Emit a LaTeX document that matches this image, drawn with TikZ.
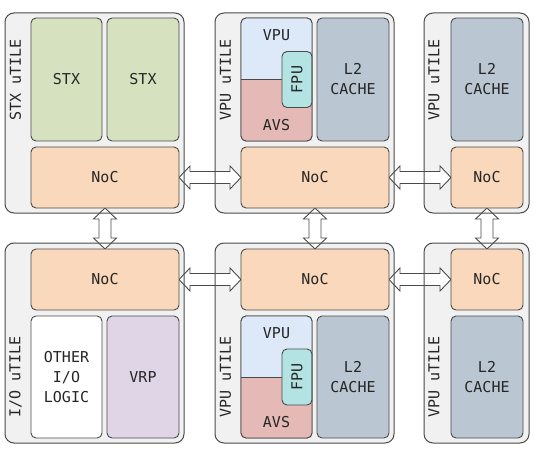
\documentclass[tikz,border=0pt]{standalone}
\usepackage{fontspec}
\newfontfamily\djm{DejaVu Sans Mono}
\usetikzlibrary{calc}
\pgfdeclarelayer{bg}
\pgfdeclarelayer{mid}
\pgfsetlayers{bg,mid,main}
\definecolor{tilebg}{HTML}{F1F1F1}
\definecolor{edge}{HTML}{4A4A4A}
\definecolor{txt}{HTML}{262626}
\definecolor{stxg}{HTML}{D6E2BF}
\definecolor{nocc}{HTML}{FAD8BB}
\definecolor{l2c}{HTML}{BAC7D2}
\definecolor{vpub}{HTML}{DDE8F8}
\definecolor{avsp}{HTML}{E4B9B6}
\definecolor{fpuc}{HTML}{B4E3E4}
\definecolor{vrpc}{HTML}{E0D5E7}
\newcommand\mkbox[7]{\node[#1, anchor=north west, minimum width={#5-#3}, minimum height={#6-#4}] (#2) at (#3,#4) {#7};}
% horizontal double arrow from #1.east to #2.west
\newcommand\harrow[2]{\draw[arr] (#1.east) -- ($(#1.east)+(11,-11.5)$) -- ($(#1.east)+(11,-6)$) -- ($(#2.west)+(-11,-6)$) -- ($(#2.west)+(-11,-11.5)$) -- (#2.west) -- ($(#2.west)+(-11,11.5)$) -- ($(#2.west)+(-11,6)$) -- ($(#1.east)+(11,6)$) -- ($(#1.east)+(11,11.5)$) -- cycle;}
% vertical double arrow from #1.south to #2.north
\newcommand\varrow[2]{\draw[arr] (#1.south) -- ($(#1.south)+(-11.5,11)$) -- ($(#1.south)+(-6,11)$) -- ($(#2.north)+(-6,-11)$) -- ($(#2.north)+(-11.5,-11)$) -- (#2.north) -- ($(#2.north)+(11.5,-11)$) -- ($(#2.north)+(6,-11)$) -- ($(#1.south)+(6,11)$) -- ($(#1.south)+(11.5,11)$) -- cycle;}
\begin{document}
\begin{tikzpicture}[x=1pt,y=-1pt,
  every node/.style={font=\djm\fontsize{15}{20}\selectfont, text=txt},
  tilebox/.style={fill=tilebg, draw=none, rounded corners=9pt, inner sep=0pt, outer sep=0pt},
  tileedge/.style={draw=edge, line width=1pt, rounded corners=9pt},
  blk/.style={draw=edge, line width=0.9pt, rounded corners=5pt, inner sep=0pt, outer sep=0pt, align=center},
  stx/.style={blk, fill=stxg},
  noc/.style={blk, fill=nocc},
  ltwo/.style={blk, fill=l2c},
  vrp/.style={blk, fill=vrpc},
  plain/.style={blk, fill=white},
  vframe/.style={blk},
  fpu/.style={blk, fill=fpuc, minimum width=30, minimum height=56, anchor=east},
  arr/.style={draw=edge, fill=white, line width=0.9pt, line join=miter},
  tlabel/.style={rotate=90}
]
\useasboundingbox (0,0) rectangle (534,462);
% tile backgrounds
\begin{pgfonlayer}{bg}
\mkbox{tilebox}{t1}{5}{13}{184}{213}{}
\mkbox{tilebox}{t2}{215}{13}{394}{213}{}
\mkbox{tilebox}{t3}{424}{13}{529}{213}{}
\mkbox{tilebox}{t4}{5}{243}{184}{443}{}
\mkbox{tilebox}{t5}{215}{243}{394}{443}{}
\mkbox{tilebox}{t6}{424}{243}{529}{443}{}
\end{pgfonlayer}
% tile borders
\foreach \t in {t1,t2,t3,t4,t5,t6}
  \draw[tileedge] (\t.north west) rectangle (\t.south east);
% NoC boxes
\mkbox{noc}{noc1}{31}{147}{179}{208}{NoC}
\mkbox{noc}{noc2}{241}{147}{389}{208}{NoC}
\mkbox{noc}{noc3}{451}{147}{523}{208}{NoC}
\mkbox{noc}{noc4}{31}{249}{179}{310}{NoC}
\mkbox{noc}{noc5}{241}{249}{389}{310}{NoC}
\mkbox{noc}{noc6}{451}{249}{523}{310}{NoC}
% arrows (under tile borders and boxes)
\begin{pgfonlayer}{mid}
\harrow{noc1}{noc2}
\harrow{noc2}{noc3}
\harrow{noc4}{noc5}
\harrow{noc5}{noc6}
\varrow{noc1}{noc4}
\varrow{noc2}{noc5}
\varrow{noc3}{noc6}
\end{pgfonlayer}
% tile labels
\node[tlabel] (lab1) at (15.5,80) {STX uTILE};
\node[tlabel] (lab2) at (225.5,80) {VPU uTILE};
\node[tlabel] (lab3) at (434,80) {VPU uTILE};
\node[tlabel] (lab4) at (15.5,377) {I/O uTILE};
\node[tlabel] (lab5) at (225.5,377) {VPU uTILE};
\node[tlabel] (lab6) at (434,377) {VPU uTILE};
% STX tile
\mkbox{stx}{stxa}{31}{18}{102}{141}{STX}
\mkbox{stx}{stxb}{107}{18}{179}{141}{STX}
% top VPU tile
\mkbox{ltwo}{l2a}{317}{18}{389}{141}{L2\\CACHE}
\mkbox{vframe}{vb2}{241}{18}{312}{141}{}
\begin{scope}
  \clip[rounded corners=5pt] (vb2.north west) rectangle (vb2.south east);
  \fill[vpub] (vb2.north west) rectangle (vb2.east);
  \fill[avsp] (vb2.west) rectangle (vb2.south east);
\end{scope}
\node[fpu] (fpu2) at (vb2.east) {};
\draw[edge, line width=0.9pt] (vb2.west) -- (fpu2.west);
\node[rotate=90] (fput2) at (fpu2.center) {FPU};
\draw[edge, line width=0.9pt, rounded corners=5pt] (vb2.north west) rectangle (vb2.south east);
\node (vput2) at ($(vb2.north)+(0,17)$) {VPU};
\node (avst2) at ($(vb2.south)+(0,-16)$) {AVS};
% top right tile
\mkbox{ltwo}{l2b}{451}{18}{523}{141}{L2\\CACHE}
% I/O tile
\mkbox{plain}{oth}{31}{316}{102}{438}{OTHER\\I/O\\LOGIC}
\mkbox{vrp}{vrpb}{107}{316}{179}{438}{VRP}
% bottom VPU tile
\mkbox{ltwo}{l2c}{317}{316}{389}{438}{L2\\CACHE}
\mkbox{vframe}{vb5}{241}{316}{312}{438}{}
\begin{scope}
  \clip[rounded corners=5pt] (vb5.north west) rectangle (vb5.south east);
  \fill[vpub] (vb5.north west) rectangle (vb5.east);
  \fill[avsp] (vb5.west) rectangle (vb5.south east);
\end{scope}
\node[fpu] (fpu5) at (vb5.east) {};
\draw[edge, line width=0.9pt] (vb5.west) -- (fpu5.west);
\node[rotate=90] (fput5) at (fpu5.center) {FPU};
\draw[edge, line width=0.9pt, rounded corners=5pt] (vb5.north west) rectangle (vb5.south east);
\node (vput5) at ($(vb5.north)+(0,17)$) {VPU};
\node (avst5) at ($(vb5.south)+(0,-16)$) {AVS};
% bottom right tile
\mkbox{ltwo}{l2d}{451}{316}{523}{438}{L2\\CACHE}
\end{tikzpicture}
\end{document}
